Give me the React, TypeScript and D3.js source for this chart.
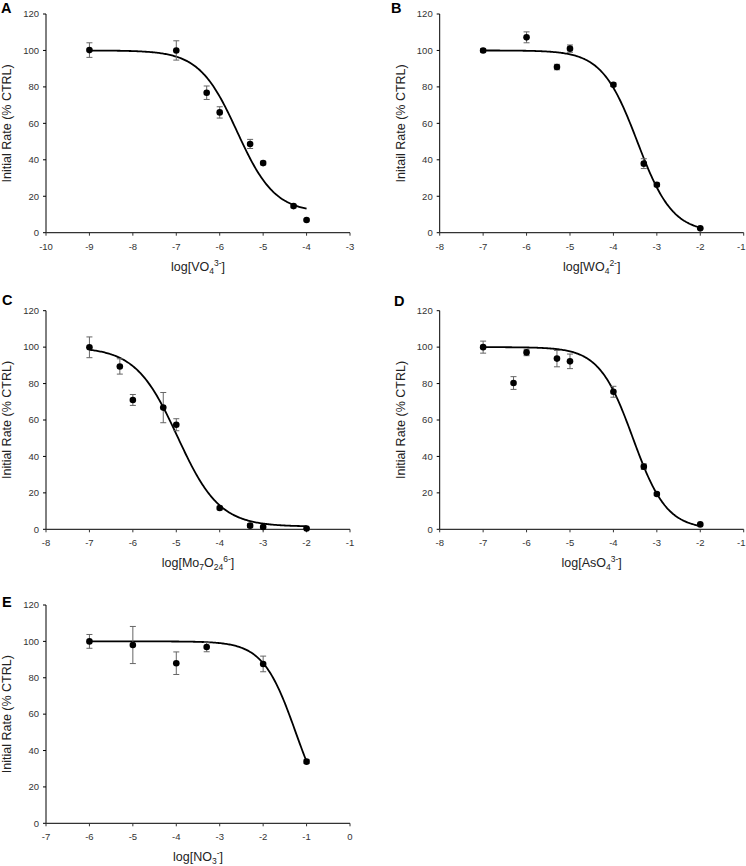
import React from 'react';
import * as d3 from 'd3';

// ---------- data ----------
const panelLabels = ['A', 'B', 'C', 'D', 'E'];
const yAxisTitles = [
  'Initial Rate (% CTRL)',
  'Initail Rate (% CTRL)',
  'Initial Rate (% CTRL)',
  'Initial Rate (% CTRL)',
  'Initial Rate (% CTRL)',
];
// x-axis titles: [text, kind] where kind = '' | 'sub' | 'sup'
const xAxisTitles: [string, string][][] = [
  [['log[VO', ''], ['4', 'sub'], ['3-', 'sup'], [']', '']],
  [['log[WO', ''], ['4', 'sub'], ['2-', 'sup'], [']', '']],
  [['log[Mo', ''], ['7', 'sub'], ['O', ''], ['24', 'sub'], ['6-', 'sup'], [']', '']],
  [['log[AsO', ''], ['4', 'sub'], ['3-', 'sup'], [']', '']],
  [['log[NO', ''], ['3', 'sub'], ['-', 'sup'], [']', '']],
];
const xDomains = [[-10, -3], [-8, -1], [-8, -1], [-8, -1], [-7, 0]];
const yTicks = [0, 20, 40, 60, 80, 100, 120];

// A: vanadate
const xVO4 = [-9, -7, -6.3, -6, -5.3, -5, -4.3, -4];
const yVO4 = [100.2, 100, 76.8, 66, 48.7, 38.2, 14.6, 7];
const eVO4 = [4, 5.3, 3.7, 3.1, 2.5, 1, 1, 0.5];
// B: tungstate
const xWO4 = [-7, -6, -5.3, -5, -4, -3.3, -3, -2];
const yWO4 = [100, 107.2, 90.9, 101, 81.2, 37.9, 26.3, 2.4];
const eWO4 = [1, 3, 1.5, 2, 1, 2.7, 1, 0.5];
// C: heptamolybdate
const xMo = [-7, -6.3, -6, -5.3, -5, -4, -3.3, -3, -2];
const yMo = [99.9, 89.4, 71, 66.8, 57.4, 11.7, 2, 1.3, 0.4];
const eMo = [5.7, 4.2, 3, 8.3, 3.3, 1, 1, 0.5, 0.3];
// D: arsenate
const xAs = [-7, -6.3, -6, -5.3, -5, -4, -3.3, -3, -2];
const yAs = [100, 80.3, 97.1, 93.7, 92.2, 75.5, 34.4, 19.4, 2.7];
const eAs = [3.3, 3.5, 1.8, 4.5, 4, 3, 1.5, 0.8, 0.5];
// E: nitrate
const xNO3 = [-6, -5, -4, -3.3, -2, -1];
const yNO3 = [100, 98, 88, 96.9, 87.6, 33.9];
const eNO3 = [3.8, 10.2, 6.2, 2.6, 4.3, 1];

const seriesX = [xVO4, xWO4, xMo, xAs, xNO3];
const seriesY = [yVO4, yWO4, yMo, yAs, yNO3];
const seriesE = [eVO4, eWO4, eMo, eAs, eNO3];

// fitted dose-response parameters (4PL)
const fitTop = [100, 100, 100, 100, 100];
const fitBottom = [11, 0, 1.5, 0, 0];
const fitLogIC50 = [-5.6, -3.45, -4.97, -3.55, -1.25];
const fitHill = [1.0, 1.07, 0.9, 1.12, 1.154];

// ---------- layout ----------
const W = 746;
const H = 866;
const colLeft = [46, 439.7];
const colRight = [350, 743.7];
const rowTop = [14, 310.7, 605];
const rowBottom = [232.7, 529.3, 823.3];
const labelPos = [
  [1, 13],
  [391, 13],
  [2, 305],
  [394, 306],
  [2, 607],
];

const FONT = 'Liberation Sans, Arial, Helvetica, sans-serif';

function XTitle({ segs, x, y }: { segs: [string, string][]; x: number; y: number }) {
  let cur = 0;
  const parts = segs.map(([t, k], i) => {
    const target = k === 'sub' ? 3 : k === 'sup' ? -5 : 0;
    const dy = target - cur;
    cur = target;
    return (
      <tspan key={i} dy={dy} fontSize={k ? 8.5 : 12.5}>
        {t}
      </tspan>
    );
  });
  return (
    <text x={x} y={y} textAnchor="middle" fontFamily={FONT} fill="#222">
      {parts}
    </text>
  );
}

function Panel({ i }: { i: number }) {
  const col = i === 4 ? 0 : i % 2;
  const row = Math.floor(i / 2);
  const left = colLeft[col];
  const right = colRight[col];
  const top = rowTop[row];
  const bottom = rowBottom[row];

  const x = d3.scaleLinear().domain(xDomains[i]).range([left, right]);
  const y = d3.scaleLinear().domain([0, 120]).range([bottom, top]);
  const xTicks = d3.range(xDomains[i][0], xDomains[i][1] + 0.5, 1);

  const xs = seriesX[i];
  const ys = seriesY[i];
  const es = seriesE[i];

  const f = (v: number) =>
    fitBottom[i] + (fitTop[i] - fitBottom[i]) / (1 + Math.pow(10, (v - fitLogIC50[i]) * fitHill[i]));
  const xMin = d3.min(xs) as number;
  const xMax = d3.max(xs) as number;
  const curveX = d3.range(0, 201).map((k) => xMin + ((xMax - xMin) * k) / 200);
  const line = d3
    .line<number>()
    .x((d) => x(d))
    .y((d) => y(f(d)))
    .curve(d3.curveLinear);

  return (
    <g>
      <text
        x={labelPos[i][0]}
        y={labelPos[i][1]}
        fontFamily={FONT}
        fontWeight="bold"
        fontSize={14.5}
        fill="#000"
      >
        {panelLabels[i]}
      </text>

      {/* y axis */}
      <line x1={left} x2={left} y1={top} y2={bottom} stroke="#000" strokeWidth={1} />
      {yTicks.map((t) => (
        <g key={'y' + t}>
          <line x1={left - 3} x2={left} y1={y(t)} y2={y(t)} stroke="#000" strokeWidth={1} />
          <text
            x={left - 7}
            y={y(t)}
            dy="0.35em"
            textAnchor="end"
            fontFamily={FONT}
            fontSize={9.5}
            fill="#333"
          >
            {String(t)}
          </text>
        </g>
      ))}

      {/* x axis */}
      <line x1={left} x2={right} y1={bottom} y2={bottom} stroke="#333" strokeWidth={1.2} />
      {xTicks.map((t) => {
        const tx = x(t);
        const nearEdge = tx + 6 > W;
        return (
          <g key={'x' + t}>
            <line x1={tx} x2={tx} y1={bottom} y2={bottom + 3} stroke="#333" strokeWidth={1} />
            <text
              x={nearEdge ? W - 0.5 : tx}
              y={bottom + 17}
              textAnchor={nearEdge ? 'end' : 'middle'}
              fontFamily={FONT}
              fontSize={9.5}
              fill="#333"
            >
              {String(t)}
            </text>
          </g>
        );
      })}

      <XTitle segs={xAxisTitles[i]} x={(left + right) / 2} y={bottom + 38} />
      <text
        transform={`translate(${left - 39},${(top + bottom) / 2}) rotate(-90)`}
        textAnchor="middle"
        dominantBaseline="central"
        fontFamily={FONT}
        fontSize={12.5}
        fill="#222"
      >
        {yAxisTitles[i]}
      </text>

      {/* fitted curve */}
      <path d={line(curveX) || ''} fill="none" stroke="#000" strokeWidth={1.8} />

      {/* error bars */}
      {xs.map((xv, k) => {
        const cx = x(xv);
        const y1 = y(ys[k] + es[k]);
        const y2 = y(ys[k] - es[k]);
        return (
          <g key={'e' + k} stroke="#666" strokeWidth={1}>
            <line x1={cx} x2={cx} y1={y1} y2={y2} />
            <line x1={cx - 3} x2={cx + 3} y1={y1} y2={y1} />
            <line x1={cx - 3} x2={cx + 3} y1={y2} y2={y2} />
          </g>
        );
      })}

      {/* markers */}
      {xs.map((xv, k) => (
        <circle key={'m' + k} cx={x(xv)} cy={y(ys[k])} r={3.3} fill="#000" />
      ))}
    </g>
  );
}

export default function App() {
  return (
    <svg
      width={W}
      height={H}
      viewBox={`0 0 ${W} ${H}`}
      style={{ position: 'absolute', left: 0, top: 0, display: 'block', background: '#fff' }}
    >
      <rect x={0} y={0} width={W} height={H} fill="#fff" />
      {panelLabels.map((_, i) => (
        <Panel key={i} i={i} />
      ))}
    </svg>
  );
}
